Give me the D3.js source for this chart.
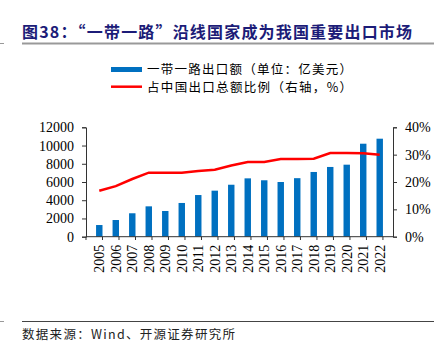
<!DOCTYPE html>
<html><head><meta charset="utf-8">
<script src="https://cdn.jsdelivr.net/npm/d3@7/dist/d3.min.js"></script>
<style>
body{margin:0;background:#fff;}
svg{display:block;}
</style></head>
<body>
<svg id="c" width="447" height="350"></svg>
<script>
const years = ["2005","2006","2007","2008","2009","2010","2011","2012","2013","2014","2015","2016","2017","2018","2019","2020","2021","2022"];
const exportValues = [1280,1830,2570,3330,2820,3700,4570,5050,5700,6400,6190,6000,6420,7100,7650,7900,10200,10750];
const sharePct = [16.8,18.5,21.1,23.4,23.4,23.4,24.0,24.5,26.0,27.3,27.3,28.4,28.4,28.5,30.6,30.6,30.5,30.0];
const leftTicks = [0,2000,4000,6000,8000,10000,12000];
const rightTicks = [0,10,20,30,40];
const titleText = "图38：“一带一路”沿线国家成为我国重要出口市场";
const legendLabels = ["一带一路出口额（单位：亿美元）","占中国出口总额比例（右轴，%）"];
const sourceText = "数据来源：Wind、开源证券研究所";

const svg = d3.select("#c");
const serif = "'Liberation Serif','Times New Roman',serif";
const cjk = "'Noto Sans CJK SC','Noto Sans CJK JP',sans-serif";
const blue = "#0070C0", red = "#FF0000", navy = "#1C1C78";

// title
svg.append("text").attr("x",22).attr("y",38).attr("font-family",cjk).attr("font-weight","bold")
  .attr("font-size",16).attr("fill",navy).attr("textLength",390).attr("lengthAdjust","spacing").text(titleText);
svg.append("line").attr("x1",22).attr("x2",434).attr("y1",43.5).attr("y2",43.5).attr("stroke","#999").attr("stroke-width",2);
svg.append("line").attr("x1",0).attr("x2",4).attr("y1",43.5).attr("y2",43.5).attr("stroke","#999").attr("stroke-width",1);

const x = d3.scaleBand().domain(years).range([86,393]).padding(0.61);
const y = d3.scaleLinear().domain([0,12000]).range([236.7,127.3]);
const y2 = d3.scaleLinear().domain([0,40]).range([236.7,127.3]);

// bars
svg.append("g").selectAll("rect").data(years).join("rect")
  .attr("x",d=>x(d)).attr("width",x.bandwidth())
  .attr("y",(d,i)=>y(exportValues[i])).attr("height",(d,i)=>y(0)-y(exportValues[i]))
  .attr("fill",blue);

// line
svg.append("path").datum(sharePct)
  .attr("d",d3.line().x((d,i)=>x(years[i])+x.bandwidth()/2).y(d=>y2(d)))
  .attr("fill","none").attr("stroke",red).attr("stroke-width",2.5);

// left axis
const ga = svg.append("g").attr("transform","translate(86,0)")
  .call(d3.axisLeft(y).tickValues(leftTicks).tickSize(4).tickPadding(8).tickFormat(d3.format("d")));
ga.selectAll("text").attr("font-family",serif).attr("font-size",14).attr("fill","#000");
ga.selectAll("line,path").attr("stroke","#333");

// right axis
const gr = svg.append("g").attr("transform","translate(393,0)")
  .call(d3.axisRight(y2).tickValues(rightTicks).tickSize(4).tickPadding(8).tickFormat(d=>d+"%"));
gr.selectAll("text").attr("font-family",serif).attr("font-size",14).attr("fill","#000");
gr.selectAll("line,path").attr("stroke","#333");

// bottom axis
const gb = svg.append("g").attr("transform","translate(0,236.7)")
  .call(d3.axisBottom(x).tickSize(0).tickPadding(6));
gb.select("path").attr("stroke","#333").attr("d","M86,0H393");
gb.selectAll("text").attr("font-family",serif).attr("font-size",14).attr("fill","#000")
  .attr("transform","rotate(-90)").attr("text-anchor","end").attr("x",-8).attr("y",0).attr("dy","0.35em");
const step = x.step();
svg.append("g").selectAll("line").data(d3.range(years.length+1)).join("line")
  .attr("x1",i=>86+i*step).attr("x2",i=>86+i*step).attr("y1",236.7).attr("y2",240).attr("stroke","#333");

// legend
svg.append("rect").attr("x",111).attr("y",67).attr("width",31).attr("height",5).attr("fill",blue);
svg.append("line").attr("x1",111).attr("x2",142).attr("y1",86.7).attr("y2",86.7).attr("stroke",red).attr("stroke-width",2.5);
svg.append("text").attr("x",147).attr("y",70).attr("dy","0.35em").attr("font-family",cjk).attr("font-size",12.5)
  .attr("textLength",205).attr("lengthAdjust","spacing").attr("fill","#000").text(legendLabels[0]);
svg.append("text").attr("x",147).attr("y",87.5).attr("dy","0.35em").attr("font-family",cjk).attr("font-size",12.5)
  .attr("textLength",205).attr("lengthAdjust","spacing").attr("fill","#000").text(legendLabels[1]);

// source
svg.append("line").attr("x1",22).attr("x2",434).attr("y1",321.5).attr("y2",321.5).attr("stroke","#444").attr("stroke-width",1);
svg.append("line").attr("x1",0).attr("x2",4).attr("y1",321.5).attr("y2",321.5).attr("stroke","#999").attr("stroke-width",1);
svg.append("text").attr("x",22).attr("y",335).attr("dy","0.35em").attr("font-family",cjk).attr("font-size",12.5)
  .attr("textLength",213).attr("lengthAdjust","spacing").attr("fill","#222").text(sourceText);
</script>
</body></html>
